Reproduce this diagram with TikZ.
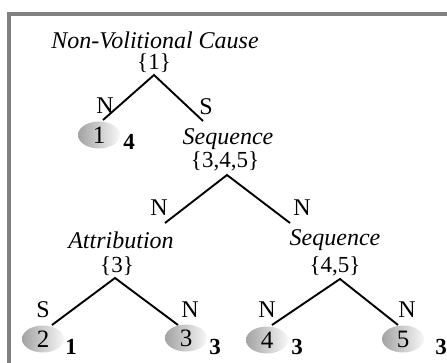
\documentclass[tikz,border=0pt]{standalone}
\usepackage{fontspec}
\setmainfont{Liberation Serif}
\usetikzlibrary{shapes.geometric}

\tikzset{
  rel/.style={font=\fontsize{24}{28}\selectfont\itshape, inner sep=0pt},
  span/.style={font=\fontsize{23}{26}\selectfont, inner sep=0pt},
  nuc/.style={font=\fontsize{24}{26}\selectfont, inner sep=0pt},
  unit/.style={ellipse, minimum width=42pt, minimum height=27pt, inner sep=0pt,
    left color=black!36, right color=black!3, font=\fontsize{25}{26}\selectfont},
  weight/.style={font=\fontsize{23}{26}\selectfont\bfseries, inner sep=0pt},
  branch/.style={line width=1.9pt}
}

\begin{document}
\begin{tikzpicture}[x=1pt, y=-1pt]
  \useasboundingbox (0,0) rectangle (447,363);
  % Cadre
  \begin{scope}
    \clip (0,0) rectangle (447,363);
    \draw[line width=4pt, black!50] (9,14) rectangle (470,390);
  \end{scope}
  % Racine
  \node[rel] (root) at (155,40) {Non-Volitional Cause};
  \node[span] (set1) at (154,63) {\{1\}};
  \coordinate (a1) at (154,75);
  \coordinate (l1) at (103,120);
  \coordinate (r1) at (203,121);
  \draw[branch] (l1) -- (a1) -- (r1);
  \node[nuc] (n1) at (105,106) {N};
  \node[nuc] (s1) at (206,107) {S};
  \node[unit] (u1) at (99,135) {1};
  \node[weight] (w1) at (129,142) {4};
  % Sequence {3,4,5}
  \node[rel] (seqa) at (228,139) {Sequence};
  \node[span] (set345) at (225,161) {\{3,4,5\}};
  \coordinate (a2) at (227,175);
  \coordinate (l2) at (165,223);
  \coordinate (r2) at (290,223);
  \draw[branch] (l2) -- (a2) -- (r2);
  \node[nuc] (n2) at (159,208) {N};
  \node[nuc] (n3) at (302,208) {N};
  % Attribution {3}
  \node[rel] (attr) at (121,240) {Attribution};
  \node[span] (set3) at (117,266) {\{3\}};
  \coordinate (a3) at (115,278);
  \coordinate (l3) at (52,325);
  \coordinate (r3) at (178,325);
  \draw[branch] (l3) -- (a3) -- (r3);
  \node[nuc] (s2) at (43,310) {S};
  \node[nuc] (n4) at (190,310) {N};
  \node[unit] (u2) at (43,339) {2};
  \node[weight] (w2) at (71,347) {1};
  \node[unit] (u3) at (186,338) {3};
  \node[weight] (w3) at (215,347) {3};
  % Sequence {4,5}
  \node[rel] (seqb) at (335,240) {Sequence};
  \node[span] (set45) at (335,266) {\{4,5\}};
  \coordinate (a4) at (340,279);
  \coordinate (l4) at (272,325);
  \coordinate (r4) at (398,325);
  \draw[branch] (l4) -- (a4) -- (r4);
  \node[nuc] (n5) at (267,310) {N};
  \node[nuc] (n6) at (407,310) {N};
  \node[unit] (u4) at (267,340) {4};
  \node[weight] (w4) at (297,347) {3};
  \node[unit] (u5) at (403,339) {5};
  \node[weight] (w5) at (441,347) {3};
\end{tikzpicture}
\end{document}
